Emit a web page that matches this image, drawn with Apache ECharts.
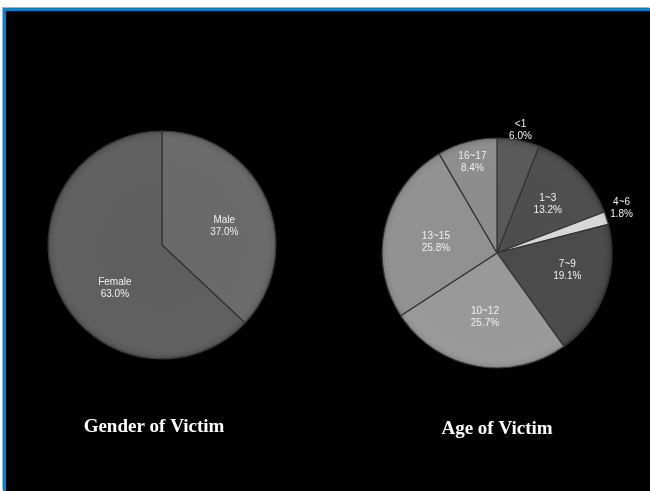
<!DOCTYPE html>
<html>
<head>
<meta charset="utf-8">
<script src="https://cdn.jsdelivr.net/npm/echarts@6/dist/echarts.min.js"></script>
<style>
html, body { margin: 0; padding: 0; background: #fff; }
#main { position: absolute; left: 0; top: 0; width: 650px; height: 491px; background: #000; }
#frame { position: absolute; left: 0; top: 0; width: 650px; height: 491px; box-sizing: border-box;
  border-top: 8px solid #fff; border-left: 3px solid #fff; pointer-events: none; }
#frame div { position: absolute; left: 0; top: 0; right: 0; bottom: 0;
  border-top: 3px solid #0b80c9; border-left: 3px solid #0b80c9; box-shadow: -1px -1px 0 #74c6ef; }
</style>
</head>
<body>
<div id="main"></div>
<div id="frame"><div></div></div>
<script>
// gender pie
const genderNames = ['Male', 'Female'];
const genderValues = [37.0, 63.0];
// age pie
const ageNames = ['<1', '1~3', '4~6', '7~9', '10~12', '13~15', '16~17'];
const ageValues = [6.0, 13.2, 1.8, 19.1, 25.7, 25.8, 8.4];

const genderColors = [[105, 105, 105], [94, 94, 94]];
const ageColors = [[88, 88, 88], [77, 77, 77], [214, 214, 214], [74, 74, 74], [152, 152, 152], [144, 144, 144], [140, 140, 140]];

// label spot: share of radius, and turn (degrees) off the slice middle
const genderLabelR = [0.57, 0.56];
const genderLabelTurn = [7, -19];
const ageLabelR = [1.09, 0.61, 1.15, 0.63, 0.57, 0.54, 0.82];
const ageLabelTurn = [0, 1, -2, -6, 0, -3, 0];

const GENDER_CENTER = [162, 245], GENDER_R = 114;
const AGE_CENTER = [497, 253], AGE_R = 115;

function placeLabels(center, radius, values, frac, turn) {
  const total = values.reduce((a, b) => a + b, 0);
  return function (params) {
    const i = params.dataIndex;
    let before = 0;
    for (let k = 0; k < i; k++) before += values[k];
    const a = ((before + values[i] / 2) / total * 360 + turn[i]) * Math.PI / 180;
    const r = radius * frac[i];
    return {
      x: center[0] + r * Math.sin(a),
      y: center[1] - r * Math.cos(a),
      align: 'center',
      verticalAlign: 'middle'
    };
  };
}

function rgb(c, d) {
  return 'rgb(' + c.map(v => Math.max(0, Math.min(255, v + d))).join(',') + ')';
}

// flat fill with a soft bevel at the rim
function sliceFill(c, center, radius) {
  return {
    type: 'radial', x: center[0], y: center[1], r: radius, global: true,
    colorStops: [
      { offset: 0, color: rgb(c, 0) },
      { offset: 0.93, color: rgb(c, 2) },
      { offset: 0.97, color: rgb(c, -4) },
      { offset: 1, color: rgb(c, -22) }
    ]
  };
}

function pieData(names, values, colors, center, radius) {
  return names.map((n, i) => ({
    name: n, value: values[i],
    itemStyle: { color: sliceFill(colors[i], center, radius) }
  }));
}

const labelStyle = {
  show: true,
  position: 'inside',
  color: '#f0f0f0',
  fontFamily: 'Liberation Sans, Arial, sans-serif',
  fontSize: 10,
  lineHeight: 12,
  formatter: p => p.name + '\n' + p.value.toFixed(1) + '%'
};

const titleText = { color: '#fff', fontFamily: 'Liberation Serif, Times New Roman, serif', fontWeight: 'bold', fontSize: 19 };

const chart = echarts.init(document.getElementById('main'));
chart.setOption({
  backgroundColor: '#000',
  animation: false,
  title: [
    { text: 'Gender of Victim', left: 154, top: 418, textAlign: 'center', padding: 0, textStyle: titleText },
    { text: 'Age of Victim', left: 497, top: 420, textAlign: 'center', padding: 0, textStyle: titleText }
  ],
  series: [
    {
      type: 'pie',
      center: GENDER_CENTER,
      radius: GENDER_R,
      startAngle: 90,
      clockwise: true,
      silent: true,
      itemStyle: { borderColor: '#333', borderWidth: 1.2 },
      label: labelStyle,
      labelLine: { show: false },
      labelLayout: placeLabels(GENDER_CENTER, GENDER_R, genderValues, genderLabelR, genderLabelTurn),
      data: pieData(genderNames, genderValues, genderColors, GENDER_CENTER, GENDER_R)
    },
    {
      type: 'pie',
      center: AGE_CENTER,
      radius: AGE_R,
      startAngle: 90,
      clockwise: true,
      silent: true,
      itemStyle: { borderColor: '#333', borderWidth: 1.2 },
      label: labelStyle,
      labelLine: { show: false },
      labelLayout: placeLabels(AGE_CENTER, AGE_R, ageValues, ageLabelR, ageLabelTurn),
      data: pieData(ageNames, ageValues, ageColors, AGE_CENTER, AGE_R)
    }
  ]
});
</script>
</body>
</html>
